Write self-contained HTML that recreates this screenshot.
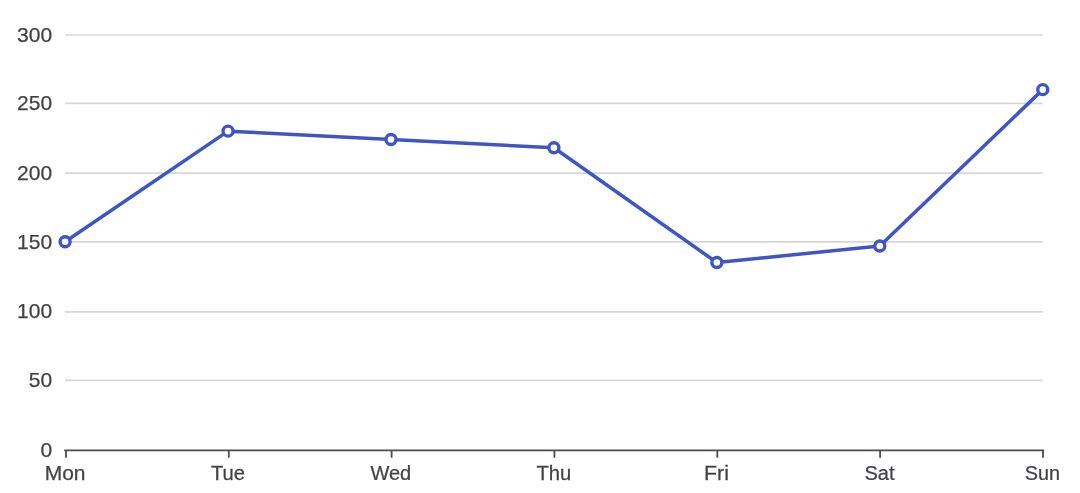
<!DOCTYPE html>
<html><head><meta charset="utf-8"><title>chart</title>
<style>
html,body{margin:0;padding:0;background:#fff;}
body{width:1080px;height:493px;overflow:hidden;}
svg{display:block;}
text{font-family:"Liberation Sans",Arial,Helvetica,sans-serif;font-size:21px;fill:#424347;stroke:#424347;stroke-width:0.25px;}
</style></head><body>
<svg width="1080" height="493" viewBox="0 0 1080 493">
<rect width="1080" height="493" fill="#ffffff"/>

<g stroke="#d5d7dc" stroke-width="1.7" fill="none">
<line x1="65.0" x2="1042.6" y1="380.30" y2="380.30"/>
<line x1="65.0" x2="1042.6" y1="311.80" y2="311.80"/>
<line x1="65.0" x2="1042.6" y1="241.90" y2="241.90"/>
<line x1="65.0" x2="1042.6" y1="173.20" y2="173.20"/>
<line x1="65.0" x2="1042.6" y1="103.30" y2="103.30"/>
<line x1="65.0" x2="1042.6" y1="35.00" y2="35.00"/>
</g>
<g stroke="#4a4c52" stroke-width="1.8" fill="none">
<line x1="64.2" x2="1044.1" y1="450.4" y2="450.4"/>
<line x1="66.00" x2="66.00" y1="450.0" y2="457.7"/>
<line x1="228.80" x2="228.80" y1="450.0" y2="457.7"/>
<line x1="391.60" x2="391.60" y1="450.0" y2="457.7"/>
<line x1="554.40" x2="554.40" y1="450.0" y2="457.7"/>
<line x1="717.30" x2="717.30" y1="450.0" y2="457.7"/>
<line x1="880.10" x2="880.10" y1="450.0" y2="457.7"/>
<line x1="1043.00" x2="1043.00" y1="450.0" y2="457.7"/>
</g>
<g text-anchor="end">
<text x="52.1" y="456.80">0</text>
<text x="52.1" y="387.20">50</text>
<text x="52.1" y="318.40">100</text>
<text x="52.1" y="249.00">150</text>
<text x="52.1" y="179.90">200</text>
<text x="52.1" y="110.10">250</text>
<text x="52.1" y="41.50">300</text>
</g>
<g text-anchor="middle">
<text transform="translate(65.10,479.8) scale(1.0,1)" x="0" y="0">Mon</text>
<text transform="translate(228.00,479.8) scale(0.962,1)" x="0" y="0">Tue</text>
<text transform="translate(390.80,479.8) scale(0.955,1)" x="0" y="0">Wed</text>
<text transform="translate(553.80,479.8) scale(0.964,1)" x="0" y="0">Thu</text>
<text transform="translate(716.50,479.8) scale(1.016,1)" x="0" y="0">Fri</text>
<text transform="translate(879.50,479.8) scale(0.957,1)" x="0" y="0">Sat</text>
<text transform="translate(1042.40,479.8) scale(0.946,1)" x="0" y="0">Sun</text>
</g>
<polyline points="65.10,241.80 228.04,131.13 390.98,139.43 553.92,147.73 716.87,262.55 879.81,245.95 1042.75,89.63" fill="none" stroke="#3e55c5" stroke-width="3.5" stroke-linejoin="bevel"/>
<g fill="#ffffff" stroke="#3e55c5" stroke-width="3.4">
<circle cx="65.10" cy="241.80" r="5.0"/>
<circle cx="228.04" cy="131.13" r="5.0"/>
<circle cx="390.98" cy="139.43" r="5.0"/>
<circle cx="553.92" cy="147.73" r="5.0"/>
<circle cx="716.87" cy="262.55" r="5.0"/>
<circle cx="879.81" cy="245.95" r="5.0"/>
<circle cx="1042.75" cy="89.63" r="5.0"/>
</g>
</svg></body></html>
